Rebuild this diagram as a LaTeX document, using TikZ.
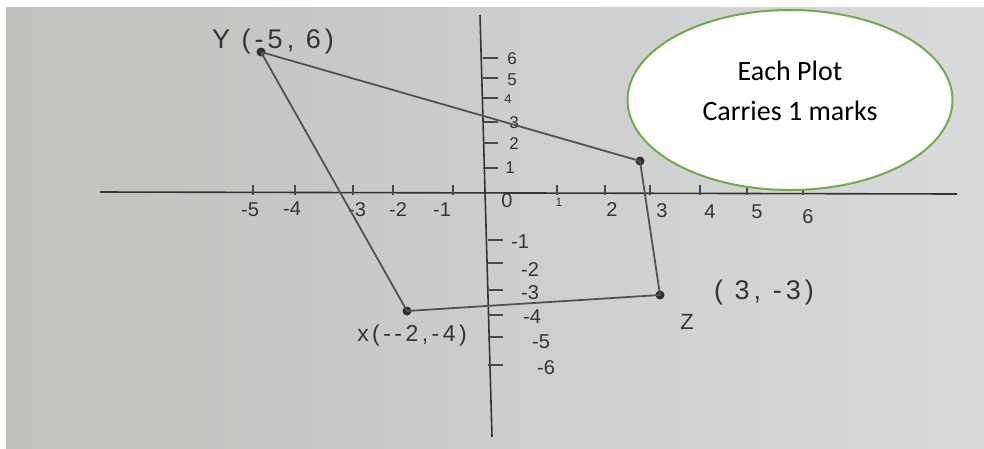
\documentclass[tikz,border=0pt]{standalone}
\usepackage{fontspec}
\setmainfont{Liberation Sans}
\newfontfamily\calib{Carlito}
\newfontfamily\handfont[LetterSpace=15]{Liberation Sans}
\usetikzlibrary{shapes.geometric}
\definecolor{paperL}{RGB}{192,192,188}
\definecolor{paperR}{RGB}{216,218,220}
\definecolor{ink}{RGB}{52,52,52}
\definecolor{ovalgreen}{RGB}{112,173,71}
\begin{document}
\begin{tikzpicture}[x=1pt,y=-1pt,
  axisline/.style={ink,line width=1.6pt},
  edge/.style={ink!85,line width=1.8pt},
  tickline/.style={ink!90,line width=1.1pt},
  dot/.style={circle,fill=ink!90!black,inner sep=0pt,minimum size=9pt},
  lab/.style={text=ink,font=\fontsize{20}{20}\selectfont,inner sep=0pt},
  ylab/.style={text=ink,font=\fontsize{17}{17}\selectfont,inner sep=0pt},
  ptlab/.style={text=ink,font=\handfont\fontsize{27}{27}\selectfont,inner sep=0pt},
  note/.style={ellipse,draw=ovalgreen,line width=2pt,fill=white,minimum width=325pt,minimum height=180pt},
  notetext/.style={align=center,font=\calib\fontsize{28}{40}\selectfont,inner sep=0pt}]
\useasboundingbox (0,0) rectangle (984,448);
\fill[white] (0,0) rectangle (984,448);
\shade[left color=paperL,right color=paperR] (6,7) rectangle (984,448);
% axes
\coordinate (xl) at (100,192);
\coordinate (xr) at (957,194);
\coordinate (yt) at (480,15);
\coordinate (yb) at (492,437);
\draw[axisline] (xl) -- (xr);
\draw[axisline] (yt) -- (yb);
% x ticks
\foreach \x in {253,295,353,393,453,557,605,650,700,747,803}
  \draw[tickline] (\x,185) -- (\x,195);
% x labels
\node[lab] (xm5) at (250,210) {-5};
\node[lab] (xm4) at (292,209) {-4};
\node[lab] (xm3) at (357,210) {-3};
\node[lab] (xm2) at (398,210) {-2};
\node[lab] (xm1) at (442,210) {-1};
\node[lab] (x0) at (507,201) {0};
\node[lab,font=\fontsize{12}{12}\selectfont] (x1) at (559,202) {1};
\node[lab] (x2) at (612,210) {2};
\node[lab] (x3) at (662,211) {3};
\node[lab] (x4) at (710,212) {4};
\node[lab] (x5) at (757,212) {5};
\node[lab] (x6) at (808,217) {6};
% y ticks
\foreach \y in {58,78,98,122,143,168}
  \draw[tickline] (483,\y) -- (498,\y);
\foreach \y in {240,263,290,315,337,365}
  \draw[tickline] (488,\y) -- (503,\y);
% y labels
\node[ylab] (y6) at (512,59) {6};
\node[ylab] (y5) at (512,80) {5};
\node[ylab,font=\fontsize{13}{13}\selectfont] (y4) at (508,99) {4};
\node[ylab] (y3) at (514,123) {3};
\node[ylab] (y2) at (514,144) {2};
\node[ylab] (y1) at (510,168) {1};
\node[lab] (ym1) at (520,242) {-1};
\node[lab] (ym2) at (530,270) {-2};
\node[lab] (ym3) at (530,293) {-3};
\node[lab] (ym4) at (532,317) {-4};
\node[lab] (ym5) at (541,342) {-5};
\node[lab] (ym6) at (546,368) {-6};
% points
\node[dot] (Y) at (261,52) {};
\node[dot] (W) at (640,161) {};
\node[dot] (Z) at (660,295) {};
\node[dot] (X) at (407,311) {};
\draw[edge] (Y.center) -- (W.center) -- (Z.center) -- (X.center) -- (Y.center);
% point labels
\node[ptlab] (Ylab) at (273,42) {Y (-5, 6)};
\node[ptlab,font=\handfont\fontsize{23}{23}\selectfont] (Xlab) at (412,336) {x(-{}-2,-4)};
\node[ptlab] (Zcoord) at (764,293) {( 3, -3)};
\node[ptlab,font=\handfont\fontsize{22}{22}\selectfont] (Zlab) at (687,322) {Z};
% note
\node[note] (oval) at (790,100) {};
\node[notetext] (ovaltext) at (790,91) {Each Plot\\Carries 1 marks};
\end{tikzpicture}
\end{document}
